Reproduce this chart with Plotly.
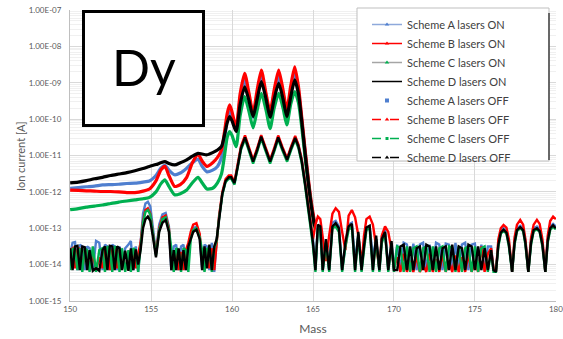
import plotly.graph_objects as go

# ---------------- data (log10 of ion current [A]) ----------------
ON_MASS = [150.0, 150.5, 151.0, 151.5, 152.0, 152.5, 153.0, 153.5, 154.0, 154.5,
           154.9, 155.3, 155.6, 155.85, 156.1, 156.45, 156.8, 157.2, 157.55, 157.9,
           158.15, 158.45, 158.8, 159.1, 159.35, 159.55, 159.7, 159.85, 160.0, 160.25,
           160.5, 160.78, 161.05, 161.3, 161.55, 161.81, 162.1, 162.35, 162.6, 162.88,
           163.15, 163.38, 163.62, 163.87, 164.1, 164.3, 164.5, 164.7, 164.9, 165.1]

A_ON = [-11.9, -11.88, -11.86, -11.84, -11.81, -11.8, -11.79, -11.77, -11.76, -11.73,
        -11.7, -11.55, -11.35, -11.27, -11.4, -11.53, -11.48, -11.35, -11.2, -11.1,
        -11.3, -11.45, -11.4, -11.3, -11.05, -10.5, -10.0, -9.79, -9.95, -10.3,
        -9.45, -8.92, -9.4, -9.95, -9.35, -8.83, -9.4, -9.9, -9.35, -8.83,
        -9.35, -9.85, -9.25, -8.74, -9.2, -10.0, -10.85, -11.65, -12.35, -12.9]
B_ON = [-11.95, -11.96, -11.97, -11.98, -11.99, -11.99, -12.0, -12.02, -12.02, -11.98,
        -11.92, -11.7, -11.4, -11.3, -11.55, -11.85, -11.8, -11.6, -11.2, -10.97,
        -11.15, -11.3, -11.2, -11.05, -10.85, -10.3, -9.85, -9.61, -9.8, -10.24,
        -9.3, -8.74, -9.3, -9.83, -9.2, -8.65, -9.3, -9.79, -9.2, -8.65,
        -9.2, -9.75, -9.1, -8.56, -9.1, -9.93, -10.8, -11.6, -12.3, -12.85]
C_ON = [-12.49, -12.46, -12.42, -12.39, -12.36, -12.32, -12.28, -12.25, -12.22, -12.19,
        -12.15, -12.0, -11.78, -11.67, -11.85, -12.08, -12.05, -11.95, -11.75, -11.6,
        -11.75, -11.92, -11.9, -11.75, -11.5, -10.95, -10.5, -10.34, -10.45, -10.76,
        -9.9, -9.38, -9.8, -10.24, -9.75, -9.29, -9.75, -10.26, -9.7, -9.29,
        -9.7, -10.16, -9.6, -9.24, -9.55, -10.2, -11.0, -11.75, -12.45, -13.0]
D_ON = [-11.75, -11.73, -11.69, -11.64, -11.6, -11.55, -11.51, -11.47, -11.42, -11.36,
        -11.3, -11.25, -11.2, -11.17, -11.22, -11.26, -11.2, -11.12, -11.02, -10.94,
        -10.96, -10.98, -10.92, -10.85, -10.75, -10.4, -10.1, -9.93, -10.05, -10.34,
        -9.6, -9.11, -9.5, -9.93, -9.45, -8.97, -9.45, -9.95, -9.45, -9.01,
        -9.45, -9.93, -9.4, -8.92, -9.3, -10.05, -10.9, -11.7, -12.4, -12.95]

# OFF scans, segment 1 : 150 - 165
OFF_MASS_1 = [150.0, 150.15, 150.3, 150.45, 150.6, 150.75, 150.9, 151.05, 151.2, 151.4,
              151.6, 151.8, 152.0, 152.15, 152.3, 152.45, 152.6, 152.75, 152.9, 153.05,
              153.2, 153.4, 153.6, 153.75, 153.9, 154.05, 154.2, 154.35, 154.5, 154.65,
              154.8, 154.95, 155.1, 155.3, 155.5, 155.7, 155.9, 156.1, 156.25, 156.4,
              156.55, 156.7, 156.85, 157.0, 157.15, 157.3, 157.45, 157.6, 157.8, 158.0,
              158.15, 158.3, 158.45, 158.6, 158.75, 158.9, 159.05, 159.2, 159.4, 159.6,
              159.8, 159.95, 160.15, 160.35, 160.55, 160.8, 161.05, 161.3, 161.55, 161.8,
              162.05, 162.35, 162.6, 162.85, 163.1, 163.4, 163.65, 163.9, 164.1, 164.3,
              164.5, 164.7, 164.85]
A_OFF_1 = [-13.7, -13.4, -13.38, -14.15, -13.45, -13.5, -14.15, -13.5, -13.55, -14.15,
           -13.35, -13.4, -14.15, -13.45, -13.5, -14.15, -13.45, -13.5, -14.15, -13.5,
           -14.1, -13.55, -13.45, -13.35, -14.15, -13.5, -14.2, -13.3, -12.6, -12.32,
           -12.27, -12.4, -12.95, -13.68, -12.9, -12.62, -12.58, -12.95, -14.15, -13.5,
           -13.45, -14.15, -13.5, -13.45, -14.15, -13.45, -13.2, -13.0, -12.95, -13.2,
           -14.1, -13.45, -13.5, -14.15, -13.4, -14.2, -13.35, -12.7, -12.05, -11.7,
           -11.62, -11.62, -11.78, -11.3, -10.78, -10.5, -10.85, -11.15, -10.85, -10.47,
           -10.8, -11.15, -10.85, -10.48, -10.8, -11.1, -10.78, -10.5, -10.72, -11.1,
           -11.72, -12.38, -12.95]
B_OFF_1 = [-13.6, -13.55, -14.1, -13.6, -13.55, -14.15, -13.6, -13.65, -14.15, -13.7,
           -14.15, -13.8, -14.1, -13.6, -13.55, -14.15, -13.6, -13.55, -14.1, -13.6,
           -13.65, -14.15, -13.7, -14.15, -13.6, -14.1, -13.7, -13.4, -12.8, -12.5,
           -12.45, -12.6, -13.1, -13.7, -13.0, -12.7, -12.65, -13.0, -13.9, -14.15,
           -13.6, -14.15, -13.65, -14.15, -13.6, -13.4, -13.1, -12.9, -12.86, -13.15,
           -13.9, -14.15, -13.6, -14.1, -13.55, -14.15, -13.4, -12.65, -12.0, -11.65,
           -11.55, -11.55, -11.72, -11.25, -10.75, -10.45, -10.8, -11.12, -10.8, -10.44,
           -10.75, -11.12, -10.8, -10.45, -10.75, -11.08, -10.75, -10.46, -10.7, -11.1,
           -11.7, -12.35, -12.85]
C_OFF_1 = [-14.15, -13.55, -13.6, -14.15, -13.55, -14.2, -13.55, -13.6, -14.2, -13.5,
           -14.2, -13.6, -13.55, -14.2, -13.5, -13.55, -14.2, -13.5, -13.55, -14.2,
           -13.55, -14.2, -13.6, -14.2, -13.55, -13.6, -14.2, -13.5, -12.85, -12.55,
           -12.5, -12.62, -13.05, -13.75, -13.05, -12.75, -12.7, -13.05, -13.55, -14.2,
           -13.55, -13.6, -14.2, -13.55, -13.6, -14.2, -13.3, -13.05, -13.0, -13.25,
           -13.6, -14.2, -13.55, -13.6, -14.2, -13.55, -13.35, -12.72, -12.08, -11.73,
           -11.64, -11.64, -11.8, -11.35, -10.85, -10.55, -10.9, -11.22, -10.9, -10.53,
           -10.85, -11.22, -10.9, -10.55, -10.85, -11.17, -10.85, -10.56, -10.8, -11.2,
           -11.8, -12.45, -12.95]
D_OFF_1 = [-13.55, -14.15, -13.5, -13.48, -14.15, -13.5, -13.52, -14.15, -13.6, -14.17,
           -14.1, -14.17, -13.6, -13.5, -14.15, -13.48, -13.5, -14.15, -13.5, -13.55,
           -14.15, -13.62, -14.17, -13.55, -14.15, -13.58, -14.0, -13.6, -13.0, -12.75,
           -12.68, -12.8, -13.2, -13.8, -13.1, -12.85, -12.77, -13.1, -14.15, -13.6,
           -14.15, -13.55, -14.15, -13.6, -14.15, -13.5, -13.3, -13.1, -13.04, -13.3,
           -14.15, -13.5, -14.1, -13.45, -14.15, -13.5, -13.3, -12.7, -12.05, -11.7,
           -11.6, -11.6, -11.76, -11.3, -10.8, -10.5, -10.85, -11.17, -10.85, -10.48,
           -10.8, -11.17, -10.85, -10.5, -10.8, -11.12, -10.8, -10.52, -10.75, -11.15,
           -11.75, -12.4, -12.9]

# segment 2 : 165 - 170
OFF_MASS_2 = [165.0, 165.15, 165.3, 165.45, 165.6, 165.8, 166.0, 166.2, 166.4, 166.6,
              166.8, 167.0, 167.2, 167.4, 167.6, 167.8, 168.0, 168.15, 168.3, 168.5,
              168.7, 168.9, 169.1, 169.25, 169.45, 169.65, 169.85, 170.0]
A_OFF_2 = [-13.3, -14.1, -12.95, -13.0, -14.15, -13.4, -14.15, -12.85, -12.8, -12.95,
           -14.15, -13.5, -12.9, -12.85, -13.9, -13.2, -14.15, -13.4, -13.0, -12.95,
           -13.8, -13.3, -14.15, -13.25, -13.05, -14.1, -13.4, -14.15]
B_OFF_2 = [-13.3, -12.9, -12.68, -12.75, -13.2, -13.9, -13.2, -12.6, -12.45, -12.55,
           -13.1, -13.6, -12.65, -12.5, -12.7, -13.2, -14.0, -13.2, -12.75, -12.68,
           -12.9, -13.5, -14.1, -13.2, -12.95, -13.1, -13.6, -14.1]
C_OFF_2 = [-13.5, -14.2, -13.0, -13.05, -14.2, -13.4, -14.2, -13.0, -12.95, -13.1,
           -14.2, -13.5, -13.05, -12.95, -14.2, -13.2, -14.2, -13.6, -13.05, -13.0,
           -14.2, -13.3, -14.2, -13.4, -13.15, -14.2, -13.45, -14.2]
D_OFF_2 = [-13.4, -14.15, -12.9, -12.95, -14.15, -13.3, -14.15, -12.95, -12.86, -13.0,
           -14.15, -13.4, -12.95, -12.88, -14.15, -13.1, -14.15, -13.5, -12.98, -12.93,
           -14.15, -13.2, -14.15, -13.3, -13.1, -14.15, -13.35, -14.15]

# segment 3 : 170 - 176
OFF_MASS_3 = [170.2, 170.4, 170.6, 170.8, 171.0, 171.2, 171.4, 171.6, 171.8, 172.0,
              172.2, 172.4, 172.6, 172.8, 173.0, 173.2, 173.4, 173.6, 173.8, 174.0,
              174.2, 174.4, 174.6, 174.8, 175.0, 175.2, 175.4, 175.6, 175.8]
A_OFF_3 = [-13.45, -14.15, -13.4, -13.45, -14.15, -13.42, -14.15, -13.45, -13.4, -14.15,
           -13.45, -14.15, -13.4, -13.45, -14.15, -13.42, -13.45, -14.15, -13.4, -14.15,
           -13.45, -13.4, -14.15, -13.45, -13.42, -14.15, -13.45, -14.15, -13.5]
B_OFF_3 = [-13.8, -14.2, -13.7, -14.2, -13.9, -14.2, -13.75, -14.2, -14.0, -14.2,
           -13.7, -14.2, -13.85, -14.2, -13.7, -14.2, -13.9, -14.2, -13.75, -14.2,
           -13.8, -14.2, -13.7, -14.2, -13.9, -14.2, -13.5, -14.2, -13.7]
C_OFF_3 = [-13.5, -13.55, -14.2, -13.5, -14.2, -13.55, -13.5, -14.2, -13.55, -13.5,
           -14.2, -13.5, -14.2, -13.55, -13.5, -14.2, -13.5, -13.55, -14.2, -13.5,
           -14.2, -13.55, -13.5, -14.2, -13.5, -14.2, -13.55, -13.5, -14.2]
D_OFF_3 = [-14.15, -13.5, -13.45, -14.15, -13.5, -14.15, -13.55, -13.5, -14.15, -13.45,
           -13.5, -14.15, -13.5, -14.15, -13.55, -13.5, -14.15, -13.45, -14.15, -13.5,
           -13.55, -14.15, -13.45, -13.5, -14.15, -13.5, -14.15, -13.55, -14.15]

# segment 4 : 176 - 180
OFF_MASS_4 = [176.0, 176.15, 176.3, 176.45, 176.6, 176.77, 176.95, 177.1, 177.3, 177.45,
              177.6, 177.8, 177.98, 178.12, 178.3, 178.47, 178.63, 178.83, 179.0, 179.17,
              179.35, 179.5, 179.65, 179.83, 180.0]
A_OFF_4 = [-13.5, -14.15, -14.2, -13.4, -13.08, -13.0, -13.08, -13.4, -14.2, -13.35,
           -13.0, -12.93, -13.0, -13.35, -14.2, -13.35, -13.0, -12.95, -13.03, -13.4,
           -14.2, -13.3, -12.95, -12.88, -12.95]
B_OFF_4 = [-13.55, -14.1, -14.2, -13.3, -13.0, -12.91, -12.98, -13.3, -14.2, -13.25,
           -12.9, -12.77, -12.9, -13.3, -14.2, -13.25, -12.9, -12.77, -12.88, -13.3,
           -14.2, -13.2, -12.8, -12.68, -12.75]
C_OFF_4 = [-13.65, -14.2, -14.2, -13.5, -13.15, -13.07, -13.15, -13.5, -14.2, -13.45,
           -13.08, -13.0, -13.08, -13.45, -14.2, -13.45, -13.08, -13.03, -13.1, -13.5,
           -14.2, -13.4, -13.05, -12.96, -13.03]
D_OFF_4 = [-13.6, -14.15, -14.2, -13.45, -13.12, -13.04, -13.12, -13.45, -14.2, -13.4,
           -13.05, -12.97, -13.05, -13.4, -14.2, -13.4, -13.05, -13.0, -13.08, -13.45,
           -14.2, -13.35, -13.0, -12.92, -13.0]

Y_TICK_EXP = [-15, -14, -13, -12, -11, -10, -9, -8, -7]
Y_TICK_TEXT = ["1.00E-15", "1.00E-14", "1.00E-13", "1.00E-12", "1.00E-11",
               "1.00E-10", "1.00E-09", "1.00E-08", "1.00E-07"]
X_TICKS = [150, 155, 160, 165, 170, 175, 180]

SERIES_NAMES = ["Scheme A lasers ON", "Scheme B lasers ON", "Scheme C lasers ON", "Scheme D lasers ON",
                "Scheme A lasers OFF", "Scheme B lasers OFF", "Scheme C lasers OFF", "Scheme D lasers OFF"]

BLUE, RED, GREEN, BLACK = "#4F7FCF", "#FF0000", "#00B050", "#000000"

FONT = "Lato"

def pw(v):
    return [10 ** x for x in v]

fig = go.Figure()

# ON curves
for vals, col in [(A_ON, BLUE), (B_ON, RED), (C_ON, GREEN), (D_ON, BLACK)]:
    fig.add_trace(go.Scatter(x=ON_MASS, y=pw(vals), mode="lines",
                             line=dict(color=col, width=3.2, shape="spline", smoothing=0.6),
                             showlegend=False, hoverinfo="skip"))

# OFF curves
off_sets = [
    (A_OFF_1, A_OFF_2, A_OFF_3, A_OFF_4, BLUE),
    (B_OFF_1, B_OFF_2, B_OFF_3, B_OFF_4, RED),
    (C_OFF_1, C_OFF_2, C_OFF_3, C_OFF_4, GREEN),
    (D_OFF_1, D_OFF_2, D_OFF_3, D_OFF_4, BLACK),
]
OFF_MASS = OFF_MASS_1 + OFF_MASS_2 + OFF_MASS_3 + OFF_MASS_4
for s1, s2, s3, s4, col in off_sets:
    fig.add_trace(go.Scatter(x=OFF_MASS, y=pw(s1 + s2 + s3 + s4), mode="lines",
                             line=dict(color=col, width=2.4),
                             showlegend=False, hoverinfo="skip"))

# legend entries
leg_styles = [
    dict(mode="lines+markers", line=dict(color="#8EA9DB", width=1.5), marker=dict(color=BLUE, size=4, symbol="triangle-up")),
    dict(mode="lines+markers", line=dict(color=RED, width=1.5), marker=dict(color=RED, size=4, symbol="triangle-up")),
    dict(mode="lines+markers", line=dict(color="#A5A5A5", width=1.5), marker=dict(color=GREEN, size=4, symbol="triangle-up")),
    dict(mode="lines", line=dict(color=BLACK, width=1.5)),
    dict(mode="markers", marker=dict(color=BLUE, size=4, symbol="square")),
    dict(mode="lines+markers", line=dict(color=RED, width=1.5, dash="dash"), marker=dict(color=RED, size=4, symbol="triangle-up")),
    dict(mode="lines+markers", line=dict(color=GREEN, width=1.5, dash="dash"), marker=dict(color=GREEN, size=3, symbol="square")),
    dict(mode="lines+markers", line=dict(color=BLACK, width=1.5, dash="dash"), marker=dict(color=BLACK, size=4, symbol="triangle-up")),
]
for name, st in zip(SERIES_NAMES, leg_styles):
    fig.add_trace(go.Scatter(x=[None], y=[None], name=name, showlegend=True, **st))

def px_x(p):
    return (p - 70) / 486.0

def px_y(p):
    return (301 - p) / 291.0

shapes = [
    # legend box
    dict(type="rect", xref="paper", yref="paper", x0=px_x(357), x1=px_x(549), y0=px_y(161), y1=px_y(8),
         line=dict(color="#BFBFBF", width=1), fillcolor="white", layer="above"),
    dict(type="line", xref="paper", yref="paper", x0=px_x(549), x1=px_x(549), y0=px_y(160), y1=px_y(13),
         line=dict(color="#404040", width=1.5), layer="above"),
    # Dy label box
    dict(type="rect", xref="paper", yref="paper", x0=px_x(83.5), x1=px_x(203.5), y0=px_y(125.5), y1=px_y(11.5),
         line=dict(color="black", width=3), fillcolor="white", layer="above"),
]

fig.update_layout(
    width=563, height=339,
    margin=dict(l=70, r=7, t=10, b=38, autoexpand=False),
    paper_bgcolor="white", plot_bgcolor="white",
    font=dict(family=FONT, color="#595959", size=9),
    shapes=shapes,
    annotations=[
        dict(text="Dy", xref="paper", yref="paper", x=px_x(144), y=px_y(67),
             xanchor="center", yanchor="middle", showarrow=False,
             font=dict(family=FONT, size=50, color="black")),
        dict(text="Ion current [A]", xref="paper", yref="paper", x=px_x(20), y=px_y(156),
             xanchor="center", yanchor="middle", showarrow=False, textangle=-90,
             font=dict(family=FONT, size=11, color="#595959")),
    ],
    legend=dict(x=px_x(367), y=px_y(10), xanchor="left", yanchor="top",
                bgcolor="rgba(0,0,0,0)", borderwidth=0, itemwidth=30,
                font=dict(family=FONT, size=11, color="#404040"), tracegroupgap=0),
    xaxis=dict(range=[149.99, 180.01], tickvals=X_TICKS, ticktext=[str(t) for t in X_TICKS],
               showgrid=True, gridcolor="#D9D9D9", gridwidth=1, zeroline=False,
               showline=True, linecolor="#BFBFBF", linewidth=1, automargin=False,
               ticks="", tickfont=dict(size=8, color="#595959"), ticklabeloverflow="allow",
               title=dict(text="Mass", font=dict(size=12, color="#595959"), standoff=12)),
    yaxis=dict(type="log", range=[-15, -7], tickvals=[10 ** e for e in Y_TICK_EXP], ticktext=Y_TICK_TEXT,
               showgrid=True, gridcolor="#D9D9D9", gridwidth=1, zeroline=False,
               showline=True, linecolor="#BFBFBF", linewidth=1, automargin=False,
               ticks="", tickfont=dict(size=8, color="#595959"), ticklabelstandoff=6,
               minor=dict(showgrid=True, gridcolor="#F0F0F0", gridwidth=1,
                          tickvals=[k * 10 ** e for e in Y_TICK_EXP[:-1] for k in (2, 3, 4, 5, 6, 7, 8, 9)])),
)

fig.write_html("out.html")
